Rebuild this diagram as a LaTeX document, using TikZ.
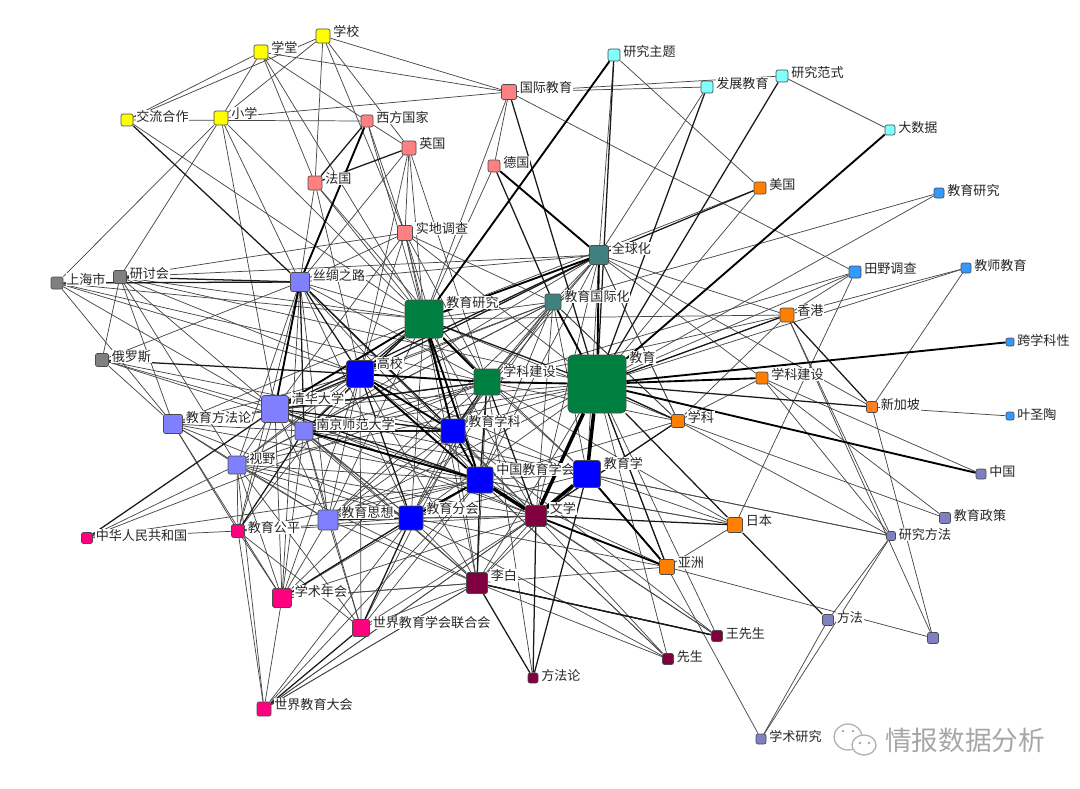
\documentclass[tikz,border=0pt]{standalone}
\usepackage{fontspec}
\setmainfont{Noto Sans CJK SC}
\usetikzlibrary{backgrounds,shapes.geometric}
\definecolor{ylw}{HTML}{FFFF00}
\definecolor{pnk}{HTML}{FF8080}
\definecolor{cyn}{HTML}{80FFFF}
\definecolor{org}{HTML}{FF8000}
\definecolor{sky}{HTML}{3399FF}
\definecolor{grn}{HTML}{008040}
\definecolor{tea}{HTML}{408080}
\definecolor{lav}{HTML}{8080FF}
\definecolor{blu}{HTML}{0000FF}
\definecolor{mar}{HTML}{800040}
\definecolor{rse}{HTML}{FF0080}
\definecolor{slt}{HTML}{8080C0}
\definecolor{gry}{HTML}{808080}
\tikzset{
  nd/.style    ={draw=black!70, rectangle, rounded corners=1.5pt, minimum size=#1*0.75pt, inner sep=0pt, line width=0.5pt},
  lbl/.style   ={anchor=west, yshift=-3.2pt, xshift=0.8pt, label distance=1.2pt, fill=white, inner sep=0.4pt, text=black!85, font=\fontsize{9.8}{10}\selectfont},
  wk/.style    ={line width=0.55pt, black!72},
  med/.style   ={line width=0.95pt, black!90},
  thk/.style   ={line width=1.4pt, black},
  hvy/.style   ={line width=2.6pt, black},
}
\begin{document}
\begin{tikzpicture}[x=0.75pt,y=-0.75pt]
  \useasboundingbox (0,0) rectangle (1080,788);
  % yellow
  \node[nd=14, fill=ylw, label={[lbl]north east:学校}] (school) at (323,36) {};
  \node[nd=14, fill=ylw, label={[lbl]north east:学堂}] (hall) at (261,52) {};
  \node[nd=12, fill=ylw, label={[lbl]north east:交流合作}] (exch) at (127,120) {};
  \node[nd=14, fill=ylw, label={[lbl]north east:小学}] (primary) at (221,118) {};
  % pink
  \node[nd=12, fill=pnk, label={[lbl]north east:西方国家}] (west) at (367,121) {};
  \node[nd=14, fill=pnk, label={[lbl]north east:英国}] (uk) at (409,148) {};
  \node[nd=14, fill=pnk, label={[lbl]north east:法国}] (fr) at (315,183) {};
  \node[nd=15, fill=pnk, label={[lbl]north east:国际教育}] (intl) at (509,92) {};
  \node[nd=12, fill=pnk, label={[lbl]north east:德国}] (de) at (494,166) {};
  \node[nd=15, fill=pnk, label={[lbl]north east:实地调查}] (field) at (405,233) {};
  % cyan
  \node[nd=12, fill=cyn, label={[lbl]north east:研究主题}] (topic) at (614,55) {};
  \node[nd=12, fill=cyn, label={[lbl]north east:发展教育}] (dev) at (707,87) {};
  \node[nd=12, fill=cyn, label={[lbl]north east:研究范式}] (para) at (782,76) {};
  \node[nd=10, fill=cyn, label={[lbl]north east:大数据}] (bigd) at (890,130) {};
  % sky
  \node[nd=10, fill=sky, label={[lbl]north east:教育研究}] (res2) at (939,193) {};
  \node[nd=12, fill=sky, label={[lbl]north east:田野调查}] (survey) at (855,272) {};
  \node[nd=10, fill=sky, label={[lbl]north east:教师教育}] (teach) at (966,268) {};
  \node[nd=8, fill=sky, label={[lbl]north east:跨学科性}] (cross) at (1010,342) {};
  \node[nd=8, fill=sky, label={[lbl]north east:叶圣陶}] (ye) at (1010,416) {};
  % orange
  \node[nd=12, fill=org, label={[lbl]north east:美国}] (us) at (760,188) {};
  \node[nd=14, fill=org, label={[lbl]north east:香港}] (hk) at (787,315) {};
  \node[nd=11, fill=org!75!pnk, label={[lbl]north east:新加坡}] (sg) at (872,407) {};
  \node[nd=12, fill=org, label={[lbl]north east:学科建设}] (disc2) at (762,378) {};
  \node[nd=13, fill=org, label={[lbl]north east:学科}] (subj) at (678,421) {};
  \node[nd=15, fill=org, label={[lbl]north east:日本}] (jp) at (735,525) {};
  \node[nd=15, fill=org, label={[lbl]north east:亚洲}] (asia) at (667,567) {};
  % slate
  \node[nd=10, fill=slt, label={[lbl]north east:中国}] (cn) at (981,474) {};
  \node[nd=11, fill=slt, label={[lbl]north east:教育政策}] (policy) at (945,518) {};
  \node[nd=9, fill=slt, label={[lbl]north east:研究方法}] (rmeth) at (891,536) {};
  \node[nd=11, fill=slt, label={[lbl]north east:方法}] (meth) at (828,620) {};
  \node[nd=11, fill=slt] (anon) at (933,638) {};
  \node[nd=10, fill=slt, label={[lbl]north east:学术研究}] (acad) at (761,739) {};
  % maroon
  \node[nd=11, fill=mar, label={[lbl]north east:王先生}] (wang) at (717,636) {};
  \node[nd=11, fill=mar, label={[lbl]north east:先生}] (xian) at (668,659) {};
  \node[nd=10, fill=mar, label={[lbl]north east:方法论}] (mlun) at (533,678) {};
  \node[nd=21, fill=mar, label={[lbl]north east:文学}] (lit) at (536,516) {};
  \node[nd=21, fill=mar, label={[lbl]north east:李白}] (libai) at (477,583) {};
  % green, teal
  \node[nd=58, fill=grn, rounded corners=3.5pt, label={[lbl]north east:教育}] (edu) at (597,384) {};
  \node[nd=38, fill=grn, rounded corners=2.5pt, label={[lbl]north east:教育研究}] (res) at (424,319) {};
  \node[nd=26, fill=grn, label={[lbl]north east:学科建设}] (disc) at (487,382) {};
  \node[nd=19, fill=tea, label={[lbl]north east:全球化}] (glob) at (599,255) {};
  \node[nd=16, fill=tea, label={[lbl]north east:教育国际化}] (eint) at (553,302) {};
  % lavender
  \node[nd=19, fill=lav, label={[lbl]north east:丝绸之路}] (silk) at (300,282) {};
  \node[nd=27, fill=lav, rounded corners=2pt, label={[lbl]north east:清华大学}] (thu) at (275,409) {};
  \node[nd=19, fill=lav, label={[lbl]north east:教育方法论}] (emeth) at (173,424) {};
  \node[nd=18, fill=lav, label={[lbl]north east:南京师范大学}] (nnu) at (304,431) {};
  \node[nd=18, fill=lav, label={[lbl]north east:视野}] (view) at (237,465) {};
  \node[nd=20, fill=lav, label={[lbl]north east:教育思想}] (thought) at (328,520) {};
  % blue
  \node[nd=27, fill=blu, rounded corners=2pt, label={[lbl]north east:高校}] (univ) at (360,374) {};
  \node[nd=24, fill=blu, label={[lbl]north east:教育学科}] (esubj) at (453,431) {};
  \node[nd=26, fill=blu, label={[lbl]north east:中国教育学会}] (cea) at (480,480) {};
  \node[nd=27, fill=blu, rounded corners=2pt, label={[lbl]north east:教育学}] (pedag) at (587,474) {};
  \node[nd=24, fill=blu, label={[lbl]north east:教育分会}] (branch) at (411,518) {};
  % rose
  \node[nd=13, fill=rse, label={[lbl]north east:教育公平}] (equity) at (238,531) {};
  \node[nd=11, fill=rse, label={[lbl]north east:中华人民共和国}] (prc) at (87,538) {};
  \node[nd=19, fill=rse, label={[lbl]north east:学术年会}] (annual) at (282,598) {};
  \node[nd=17, fill=rse, label={[lbl]north east:世界教育学会联合会}] (wera) at (361,628) {};
  \node[nd=14, fill=rse, label={[lbl]north east:世界教育大会}] (wec) at (264,709) {};
  % gray
  \node[nd=12, fill=gry, label={[lbl]north east:上海市}] (sh) at (57,283) {};
  \node[nd=13, fill=gry, label={[lbl]north east:研讨会}] (sem) at (120,277) {};
  \node[nd=13, fill=gry, label={[lbl]north east:俄罗斯}] (ru) at (102,360) {};

  \begin{scope}[on background layer]
    % weak ties
    \foreach \a/\b in {hall/exch, school/exch, school/primary, school/fr, school/field, school/uk, school/intl,
      hall/intl, hall/primary, hall/fr, hall/res, hall/west, exch/west, exch/res, primary/intl, primary/sh,
      primary/sem, primary/silk, primary/thu, primary/res, west/uk, west/field, west/res, uk/silk, uk/univ,
      uk/field, uk/disc, uk/res, fr/silk, fr/univ, fr/res, fr/disc, intl/res, intl/de, intl/survey, intl/dev, intl/para,
      de/res, de/glob, field/sem, field/silk, field/res, field/univ, field/thu, field/disc, field/edu, field/esubj,
      field/cea, field/eint, topic/glob, topic/us, dev/glob, para/bigd, us/res, us/edu, res2/eint, res2/edu,
      survey/edu, survey/disc, survey/jp, survey/hk, teach/hk, teach/edu, teach/sg, ye/sg, hk/glob, hk/res,
      hk/edu, hk/disc, hk/rmeth, hk/anon, hk/subj, sg/anon, sg/glob, disc2/subj, disc2/cn, disc2/rmeth, disc2/policy,
      disc2/glob, subj/edu, subj/policy, subj/rmeth, subj/glob, subj/eint, subj/lit, subj/cea, subj/disc,
      jp/asia, jp/pedag, jp/cea, meth/rmeth, meth/acad, acad/rmeth, acad/asia, asia/anon, asia/libai, asia/cea,
      asia/lit, asia/branch, rmeth/pedag, wang/lit, wang/cea, wang/edu, wang/esubj, xian/lit, xian/libai, xian/edu,
      xian/branch, xian/cea, mlun/disc, sh/res, sh/univ, sh/silk, sh/emeth, sh/thu, sh/disc, sem/ru, sem/res, sem/thu,
      sem/univ, sem/emeth, sem/edu, sem/view, ru/emeth, ru/thu, ru/silk, ru/esubj, ru/cea, silk/res, silk/disc,
      silk/esubj, silk/thought, silk/view, silk/equity, silk/cea, silk/glob, silk/lit, silk/annual, silk/branch,
      glob/disc, glob/eint, glob/esubj, glob/cea, glob/pedag, glob/subj, glob/sem, glob/lit, glob/nnu, eint/res, eint/univ, eint/thu, eint/disc,
      eint/esubj, eint/cea, eint/subj, eint/nnu, eint/thought, eint/view, eint/lit, eint/branch, eint/pedag,
      res/esubj, res/nnu, res/view, res/thought, res/branch, res/pedag, res/lit, res/subj, res/libai, res/emeth,
      univ/emeth, univ/nnu, univ/view, univ/thought, univ/lit, univ/pedag, univ/wera, univ/annual, univ/equity, univ/libai,
      disc/nnu, disc/esubj, disc/thought, disc/branch, disc/pedag, disc/view, disc/libai, disc/jp, disc/emeth, disc/wera,
      edu/nnu, edu/view, edu/thought, edu/branch, edu/libai, edu/esubj, edu/asia, edu/thu,
      thu/emeth, thu/nnu, thu/view, thu/thought, thu/annual, thu/equity, thu/lit, thu/branch, thu/esubj, thu/libai,
      thu/pedag, thu/disc, emeth/view, emeth/nnu, emeth/equity, emeth/cea, emeth/branch, emeth/thought, emeth/annual,
      nnu/view, nnu/thought, nnu/lit, nnu/pedag, nnu/libai, nnu/branch, nnu/annual, nnu/esubj, nnu/wera,
      view/cea, view/thought, view/wec, view/annual, view/branch, view/prc, view/lit, view/libai, view/wera, view/equity,
      thought/cea, thought/branch, thought/annual, thought/wera, thought/libai, thought/lit, thought/esubj,
      esubj/branch, esubj/lit, esubj/pedag, esubj/libai, esubj/annual,
      cea/pedag, cea/wera, cea/annual, cea/wec, cea/equity, cea/jp, cea/xian,
      pedag/branch, pedag/libai, pedag/asia, pedag/rmeth, branch/libai, branch/lit, branch/wec, branch/annual, branch/equity,
      lit/libai, lit/annual, lit/wera, lit/wec, lit/equity, lit/asia, libai/wera, libai/annual, libai/wec, libai/wang,
      equity/prc, equity/annual, equity/wec, equity/wera, annual/wec, annual/libai, wec/libai, wec/lit, prc/disc, prc/cea}
      \draw[wk] (\a) -- (\b);
    % medium ties
    \foreach \a/\b in {exch/silk, west/fr, uk/fr, intl/edu, de/eint, topic/edu, dev/edu, para/edu, us/glob, hk/sg, sg/edu,
      jp/meth, wang/libai, mlun/libai, mlun/lit, mlun/pedag, wera/wec, wera/branch, annual/branch, prc/thu, equity/nnu,
      sh/silk, sem/silk, ru/univ, silk/nnu, silk/univ, silk/esubj, jp/lit, jp/edu, asia/edu, asia/pedag, thu/univ,
      glob/thu, glob/univ, res/nnu, nnu/cea, thu/cea, thought/branch, branch/cea, cea/libai, res/univ, disc/lit,
      disc/cea, edu/subj, hk/edu, univ/branch, subj/lit, nnu/esubj, thu/esubj, esubj/disc, res/edu, thu/disc, wang/libai}
      \draw[med] (\a) -- (\b);
    % strong ties
    \foreach \a/\b in {west/silk, topic/res, bigd/edu, cross/edu, cn/edu, de/glob, glob/res, eint/edu, glob/edu,
      silk/thu, univ/disc, univ/esubj, univ/cea, res/cea, res/esubj, esubj/cea, cea/branch, asia/lit, res/disc,
      thu/res, cea/nnu, pedag/asia, edu/disc, disc2/edu}
      \draw[thk] (\a) -- (\b);
    % heaviest ties
    \foreach \a/\b in {edu/lit, edu/pedag, pedag/lit, cea/lit}
      \draw[hvy] (\a) -- (\b);
  \end{scope}

  % watermark
  \node[text=gray!70, font=\fontsize{20}{20}\selectfont, inner sep=0pt] (wm) at (965,740) {情报数据分析};
  \draw[gray!60, line width=1pt, fill=white] (848,737) ellipse (14 and 13);
  \draw[gray!60, line width=1pt, fill=white] (864,745) ellipse (12 and 10);
  \foreach \px/\py in {843/731, 853/731, 860/743, 869/743}
    \fill[gray!70] (\px,\py) circle (1.3);
\end{tikzpicture}
\end{document}
